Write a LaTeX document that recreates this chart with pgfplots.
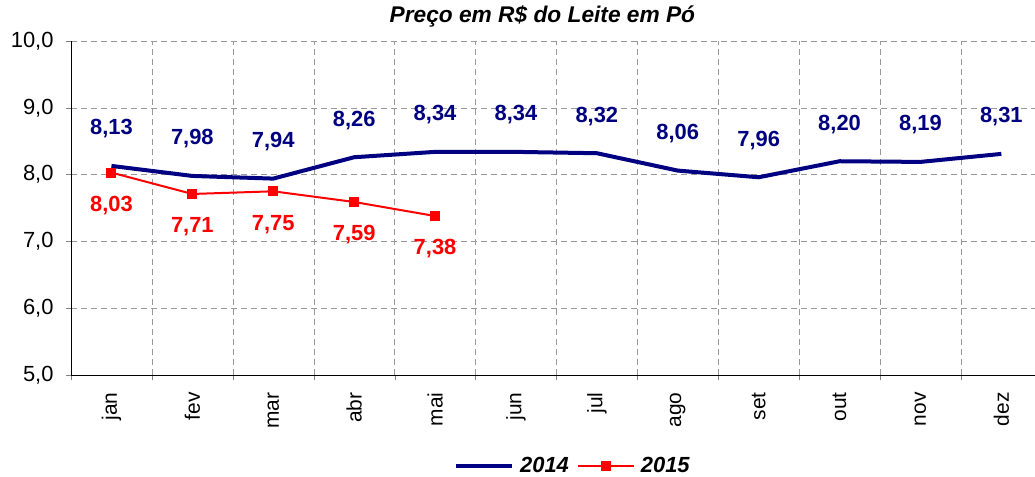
\documentclass[border=0pt]{standalone}
\usepackage{fontspec}
\setmainfont{Liberation Sans}
\usepackage{pgfplots}
\pgfplotsset{compat=1.18}
\definecolor{navyline}{HTML}{000080}
\definecolor{redline}{HTML}{FF0000}
\definecolor{gridgray}{HTML}{999999}

\begin{document}
\begin{tikzpicture}
  \begin{axis}[
    name=main,
    scale only axis,
    width=970.8bp, height=334bp,
    xmin=-0.5, xmax=11.5,
    ymin=5, ymax=10,
    axis x line*=bottom, axis y line*=left,
    xtick={0,...,11},
    xticklabels={jan,fev,mar,abr,mai,jun,jul,ago,set,out,nov,dez},
    minor xtick={-0.5,0.5,...,11.5},
    major x tick style={draw=none},
    ytick={5,6,...,10},
    tick align=outside,
    major tick length=5bp, minor tick length=5bp,
    xminorgrids, ymajorgrids,
    major grid style={gridgray, dash pattern=on 6bp off 4bp},
    minor grid style={gridgray, dash pattern=on 6bp off 4bp},
    /pgf/number format/.cd, use comma, fixed, fixed zerofill, precision=1,
      assume math mode=true,
    /pgfplots/.cd,
    yticklabel style={font=\fontsize{22}{26}\selectfont},
    xticklabel style={rotate=90, anchor=east, font=\fontsize{21}{25}\selectfont},
    xticklabel shift=9bp,
    yticklabel shift=9bp,
    title={Preço em R\$ do Leite em Pó},
    title style={font=\bfseries\itshape\fontsize{22.8}{27}\selectfont,
      at={(0.5,1)}, anchor=base, yshift=13bp, xshift=-14bp},
    legend style={draw=none, fill=none, legend columns=-1,
      at={(0.517,-0.272)}, anchor=center,
      font=\bfseries\itshape\fontsize{22}{26}\selectfont,
      /tikz/every odd column/.append style={column sep=4bp},
      /tikz/every even column/.append style={column sep=6bp}},
    legend image code/.code={
      \draw[mark repeat=2, mark phase=2] plot coordinates {(0bp,0bp) (28bp,0bp) (56bp,0bp)};
    },
  ]
  \addplot[navyline, line width=4bp, no marks,
    nodes near coords={\pgfmathprintnumber[fixed,fixed zerofill,precision=2,use comma]{\pgfplotspointmeta}},
    every node near coord/.append style={anchor=center, yshift=37bp, text=navyline,
      font=\bfseries\fontsize{22}{26}\selectfont}]
    coordinates {
    (0,8.13) (1,7.98) (2,7.94) (3,8.26) (4,8.34) (5,8.34)
    (6,8.32) (7,8.06) (8,7.96) (9,8.20) (10,8.19) (11,8.31)
  };
  \addlegendentry{2014}
  \addplot[redline, line width=2bp, mark=square*, mark size=4bp,
    mark options={solid, fill=redline},
    nodes near coords={\pgfmathprintnumber[fixed,fixed zerofill,precision=2,use comma]{\pgfplotspointmeta}},
    every node near coord/.append style={anchor=center, yshift=-33bp, text=redline,
      font=\bfseries\fontsize{22}{26}\selectfont}]
    coordinates {
    (0,8.03) (1,7.71) (2,7.75) (3,7.59) (4,7.38)
  };
  \addlegendentry{2015}
  \end{axis}
  \pgfresetboundingbox
  \path (main.south west) ++(-71bp,-102bp) rectangle ++(1035bp,477bp);
\end{tikzpicture}
\end{document}
